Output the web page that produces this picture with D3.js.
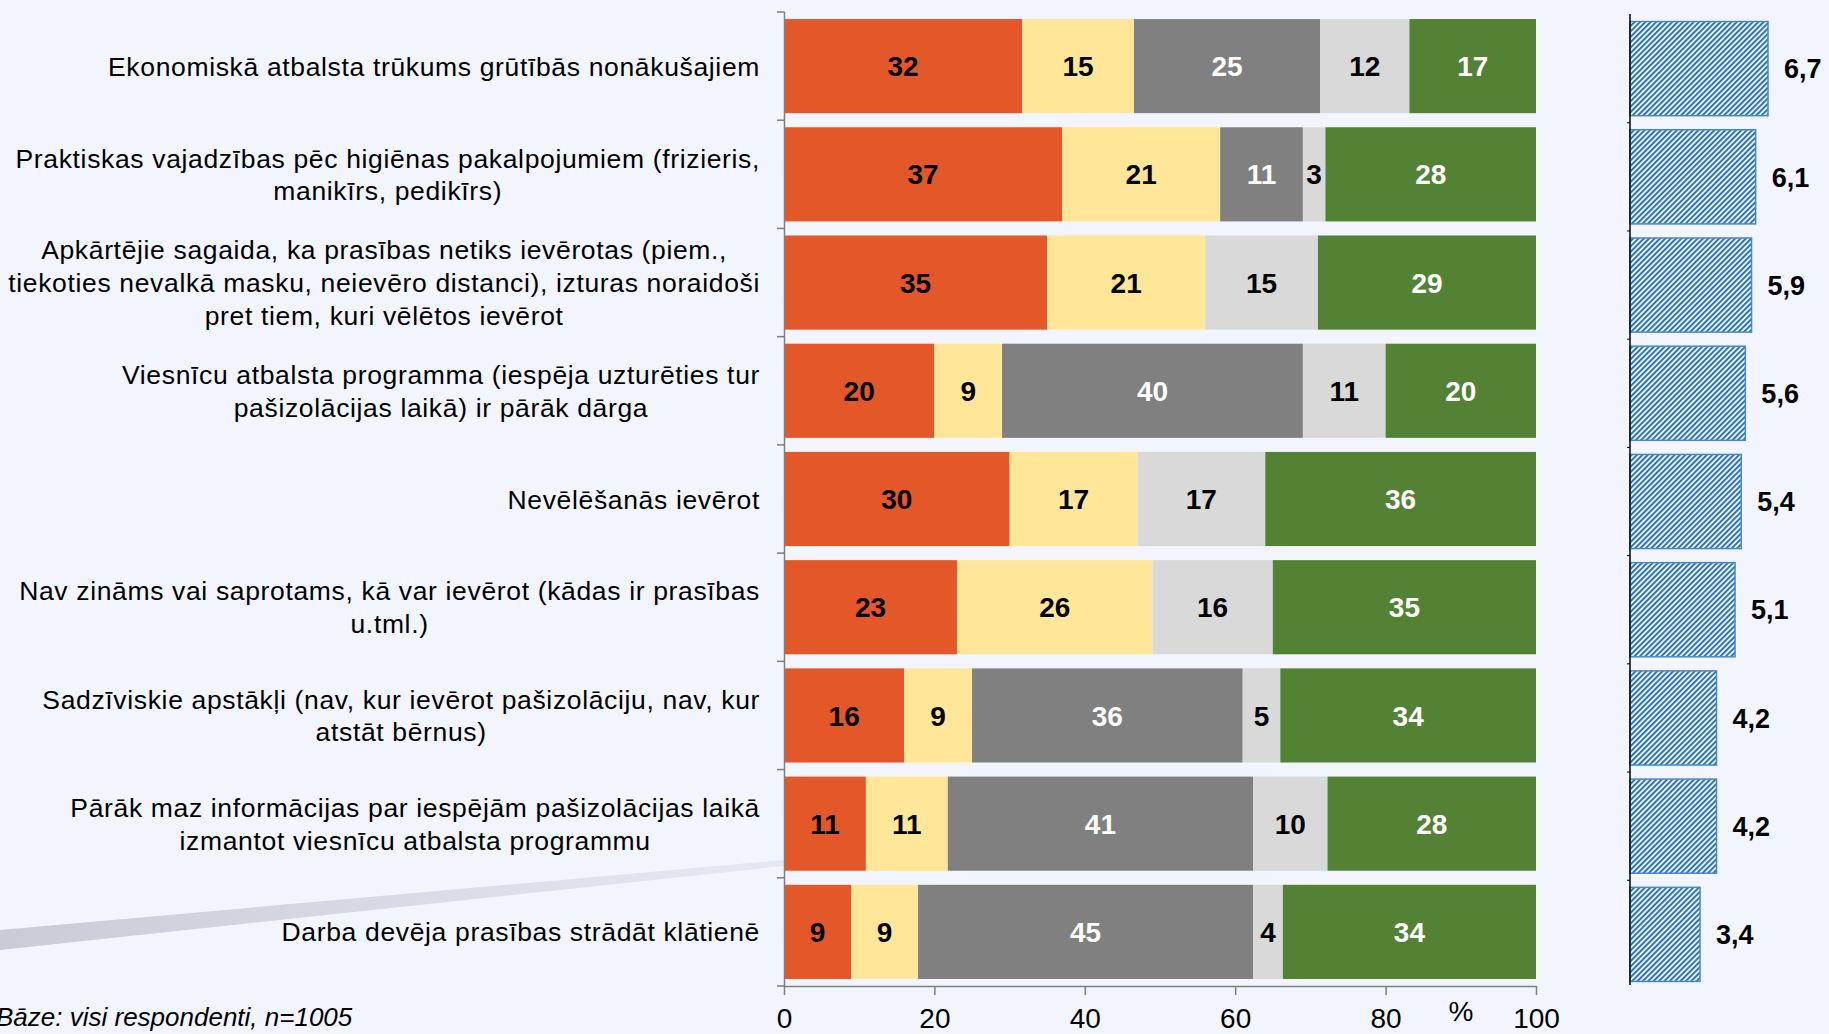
<!DOCTYPE html>
<html>
<head>
<meta charset="utf-8">
<script src="https://cdn.jsdelivr.net/npm/d3@7"></script>
<style>
  html, body { margin: 0; padding: 0; background: #F2F5FE; overflow: hidden; }
  svg { display: block; font-family: "Liberation Sans", Arial, sans-serif; }
</style>
</head>
<body>
<svg id="chart" width="1829" height="1034"></svg>
<script>
// Category labels, one entry per line
const categories = [
    ["Ekonomiskā atbalsta trūkums grūtībās nonākušajiem"],
    ["Praktiskas vajadzības pēc higiēnas pakalpojumiem (frizieris,", "manikīrs, pedikīrs)"],
    ["Apkārtējie sagaida, ka prasības netiks ievērotas (piem.,", "tiekoties nevalkā masku, neievēro distanci), izturas noraidoši", "pret tiem, kuri vēlētos ievērot"],
    ["Viesnīcu atbalsta programma (iespēja uzturēties tur", "pašizolācijas laikā) ir pārāk dārga"],
    ["Nevēlēšanās ievērot"],
    ["Nav zināms vai saprotams, kā var ievērot (kādas ir prasības", "u.tml.)"],
    ["Sadzīviskie apstākļi (nav, kur ievērot pašizolāciju, nav, kur", "atstāt bērnus)"],
    ["Pārāk maz informācijas par iespējām pašizolācijas laikā", "izmantot viesnīcu atbalsta programmu"],
    ["Darba devēja prasības strādāt klātienē"]
];

// Stacked percentage series (0 = segment absent)
const seriesRed = [32, 37, 35, 20, 30, 23, 16, 11, 9];
const seriesYellow = [15, 21, 21, 9, 17, 26, 9, 11, 9];
const seriesDarkGray = [25, 11, 0, 40, 0, 0, 36, 41, 45];
const seriesLightGray = [12, 3, 15, 11, 17, 16, 5, 10, 4];
const seriesGreen = [17, 28, 29, 20, 36, 35, 34, 28, 34];

// Mean scores for the right-hand bars
const means = [6.7, 6.1, 5.9, 5.6, 5.4, 5.1, 4.2, 4.2, 3.4];

const xTicks = [0, 20, 40, 60, 80, 100];
const footnote = "Bāze: visi respondenti, n=1005";

const seriesList = [
    { values: seriesRed, color: "#E45729", text: "#000" },
    { values: seriesYellow, color: "#FFE699", text: "#000" },
    { values: seriesDarkGray, color: "#808080", text: "#fff" },
    { values: seriesLightGray, color: "#D9D9D9", text: "#000" },
    { values: seriesGreen, color: "#548235", text: "#fff" }
];

const svg = d3.select("#chart");
const ids = categories.map((c, i) => i);

// Background swoosh in lower left
const defs = svg.append("defs");
const grad = defs.append("linearGradient").attr("id", "swoosh")
    .attr("x1", "0%").attr("x2", "100%").attr("y1", "0%").attr("y2", "0%");
grad.append("stop").attr("offset", "0%").attr("stop-color", "#C9CCD5");
grad.append("stop").attr("offset", "100%").attr("stop-color", "#E6E9F1");
svg.append("path")
    .attr("d", "M0,930 L784,860 L784,866 L0,950 Z")
    .attr("fill", "url(#swoosh)");

// Hatch pattern for mean bars
const pat = defs.append("pattern").attr("id", "hatch")
    .attr("patternUnits", "userSpaceOnUse")
    .attr("width", 3.8).attr("height", 3.8)
    .attr("patternTransform", "rotate(45)");
pat.append("rect").attr("width", 3.8).attr("height", 3.8).attr("fill", "#fff");
pat.append("rect").attr("width", 2.1).attr("height", 3.8).attr("fill", "#2E75B6");

// Scales
const x = d3.scaleLinear().domain([0, 100]).range([784, 1536]);
const y = d3.scaleBand().domain(ids).range([12, 986]).paddingInner(0.13).paddingOuter(0.065);
const y2 = d3.scaleBand().domain(ids).range([14.5, 988.5]).paddingInner(0.13).paddingOuter(0.065);
const xm = d3.scaleLinear().domain([0, 10]).range([1630, 1836]);

// Build stacked segments, normalised so each row ends at 100
const segments = [];
ids.forEach(i => {
    const total = d3.sum(seriesList, s => s.values[i]);
    let cum = 0;
    seriesList.forEach(s => {
        const v = s.values[i];
        if (v > 0) {
            segments.push({ row: i, v: v, x0: cum / total * 100, x1: (cum + v) / total * 100, color: s.color, text: s.text });
        }
        cum += v;
    });
});

svg.selectAll(".seg")
    .data(segments)
    .enter()
    .append("rect")
    .attr("class", "seg")
    .attr("x", d => x(d.x0))
    .attr("y", d => y(d.row))
    .attr("width", d => x(d.x1) - x(d.x0))
    .attr("height", y.bandwidth())
    .attr("fill", d => d.color);

svg.selectAll(".segLabel")
    .data(segments)
    .enter()
    .append("text")
    .attr("class", "segLabel")
    .attr("x", d => (x(d.x0) + x(d.x1)) / 2)
    .attr("y", d => y(d.row) + y.bandwidth() / 2)
    .attr("dy", "0.36em")
    .attr("text-anchor", "middle")
    .attr("font-size", 28)
    .attr("font-weight", "bold")
    .attr("fill", d => d.text)
    .text(d => d.v);

// Left axis line and boundary ticks
const axisColor = "#7F7F7F";
svg.append("line")
    .attr("x1", 784.5).attr("x2", 784.5).attr("y1", 12).attr("y2", 986)
    .attr("stroke", axisColor).attr("stroke-width", 1.5);
const bounds = d3.range(ids.length + 1).map(i => 12 + i * y.step());
svg.selectAll(".ltick")
    .data(bounds)
    .enter()
    .append("line")
    .attr("x1", 777).attr("x2", 784.5)
    .attr("y1", d => d).attr("y2", d => d)
    .attr("stroke", axisColor).attr("stroke-width", 1.5);

// Bottom axis
const xAxis = svg.append("g")
    .attr("transform", "translate(0,986)")
    .call(d3.axisBottom(x).tickValues(xTicks).tickSize(9).tickPadding(13).tickSizeOuter(0));
xAxis.select(".domain").attr("stroke", axisColor).attr("stroke-width", 1.5);
xAxis.selectAll(".tick line").attr("stroke", axisColor).attr("stroke-width", 1.5);
xAxis.selectAll(".tick text")
    .attr("font-size", 28)
    .attr("font-family", "Liberation Sans, Arial, sans-serif")
    .attr("fill", "#000");

svg.append("text")
    .attr("x", 1461).attr("y", 1021)
    .attr("text-anchor", "middle")
    .attr("font-size", 28)
    .text("%");

// Category labels: block right-aligned at 760, lines centered
const lineH = 32.7;
categories.forEach((lines, i) => {
    const g = svg.append("g");
    const cy = y(i) + y.bandwidth() / 2;
    const texts = lines.map((ln, k) => g.append("text")
        .attr("y", cy + (k - (lines.length - 1) / 2) * lineH)
        .attr("dy", "0.36em")
        .attr("text-anchor", "middle")
        .attr("font-size", 26.5)
        .attr("letter-spacing", 0.65)
        .attr("fill", "#000")
        .text(ln));
    const maxW = d3.max(texts, t => t.node().getComputedTextLength());
    texts.forEach(t => t.attr("x", 760 - maxW / 2));
});

// Right mean bars
svg.selectAll(".mean")
    .data(ids)
    .enter()
    .append("rect")
    .attr("class", "mean")
    .attr("x", xm(0))
    .attr("y", i => y2(i))
    .attr("width", i => xm(means[i]) - xm(0))
    .attr("height", y2.bandwidth())
    .attr("fill", "url(#hatch)")
    .attr("stroke", "#4A89C8")
    .attr("stroke-width", 1.5);

svg.selectAll(".meanLabel")
    .data(ids)
    .enter()
    .append("text")
    .attr("class", "meanLabel")
    .attr("x", i => xm(means[i]) + 16)
    .attr("y", i => y2(i) + y2.bandwidth() / 2)
    .attr("dy", "0.36em")
    .attr("font-size", 27)
    .attr("font-weight", "bold")
    .text(i => d3.format(".1f")(means[i]).replace(".", ","));

svg.append("line")
    .attr("x1", 1630).attr("x2", 1630).attr("y1", 14).attr("y2", 985)
    .attr("stroke", "#000").attr("stroke-width", 1.5);
const bounds2 = d3.range(ids.length + 1).map(i => 14.5 + i * y2.step());
svg.selectAll(".rtick")
    .data(bounds2.slice(1, -1))
    .enter()
    .append("line")
    .attr("x1", 1627).attr("x2", 1630)
    .attr("y1", d => d).attr("y2", d => d)
    .attr("stroke", "#000").attr("stroke-width", 1);

// Footnote
svg.append("text")
    .attr("x", -4).attr("y", 1026)
    .attr("font-size", 26)
    .attr("font-style", "italic")
    .text(footnote);
</script>
</body>
</html>
